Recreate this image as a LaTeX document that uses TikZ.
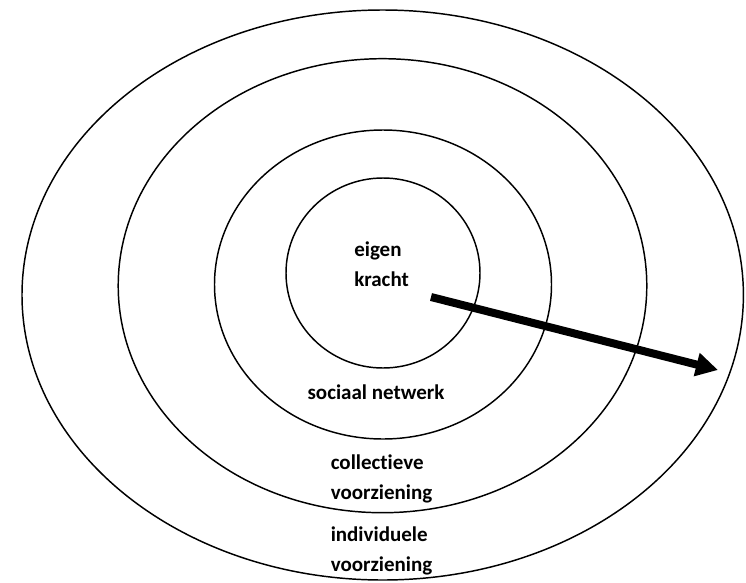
\documentclass[tikz,border=0pt]{standalone}
\usepackage{fontspec}
\setmainfont{Carlito}[Ligatures=NoCommon]
\usetikzlibrary{positioning}
\usetikzlibrary{arrows.meta}

\tikzset{
	ring/.style={line width=1.1pt},
	ringtext/.style={font=\bfseries\fontsize{15.75}{22.5}\selectfont, align=left, inner sep=0pt, anchor=west},
	growarrow/.style={line width=6pt, -{Triangle[length=16.5pt,width=17pt]}}
}

\begin{document}
\begin{tikzpicture}[x=0.75pt,y=-0.75pt]
	\useasboundingbox (0,0) rectangle (746,582);
	% Rings %
	\draw [ring] (382.7,295) ellipse (360.7 and 285);
	\draw [ring] (382.5,285.7) ellipse (264.3 and 227);
	\draw [ring] (383,284.5) ellipse (168.5 and 154.5);
	\draw [ring] (383,273) ellipse (97 and 95);
	% Labels %
	\node (eigen) [ringtext] at (354,264.5) {eigen\\kracht};
	\node (sociaal) [ringtext, anchor=center] at (376,392) {sociaal netwerk};
	\node (collectief) [ringtext] at (330.5,479) {collectieve\\voorziening};
	\node (individueel) [ringtext] at (330.5,551) {individuele\\voorziening};
	% Arrow %
	\coordinate (arrowstart) at (431,297);
	\coordinate (arrowend) at (718,370);
	\draw [growarrow] (arrowstart) -- (arrowend);
\end{tikzpicture}
\end{document}
